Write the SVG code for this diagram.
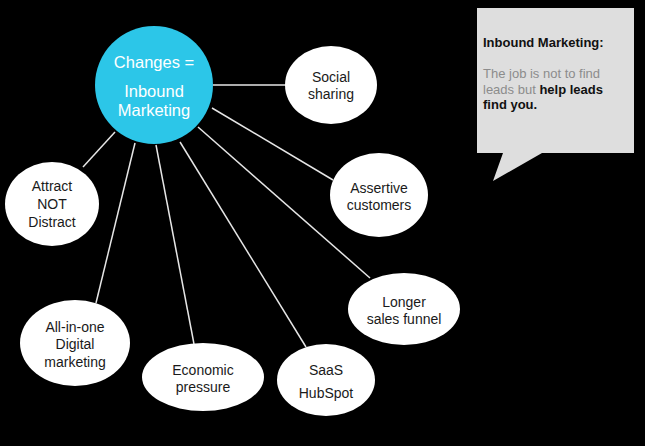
<svg xmlns="http://www.w3.org/2000/svg" width="645" height="446" viewBox="0 0 645 446">
<style>
.bg{fill:#000}
.hub{fill:#2cc6e8}
.node{fill:#fff}
.edge{stroke:#e6e6e6;stroke-width:1.5;fill:none}
.ht{font-family:"Liberation Sans",Arial,sans-serif;font-size:16.5px;fill:#fff;text-anchor:middle}
.nt{font-family:"Liberation Sans",Arial,sans-serif;font-size:14px;fill:#1a1a1a;text-anchor:middle}
.ct{font-family:"Liberation Sans",Arial,sans-serif;font-size:13px}
.cb{font-weight:bold;fill:#111}
.cg{fill:#8c8c8c}
.callout{fill:#dedede}
</style>
<rect class="bg" x="0" y="0" width="645" height="446"/>
<g id="connectors">
<line class="edge" x1="213" y1="85" x2="286" y2="85"/>
<line class="edge" x1="212" y1="108" x2="333" y2="180"/>
<line class="edge" x1="198" y1="127" x2="370" y2="278"/>
<line class="edge" x1="180" y1="142" x2="306" y2="347"/>
<line class="edge" x1="156" y1="145" x2="194" y2="344"/>
<line class="edge" x1="135" y1="143" x2="96" y2="303"/>
<line class="edge" x1="115" y1="132" x2="83" y2="167"/>
</g>
<g id="hub">
<circle class="hub" cx="154" cy="85" r="59"/>
<text class="ht" x="154" y="68">Changes =</text>
<text class="ht" x="154" y="97">Inbound</text>
<text class="ht" x="154" y="116">Marketing</text>
</g>
<g id="social">
<ellipse class="node" cx="331" cy="85" rx="46" ry="39"/>
<text class="nt" x="331" y="82">Social</text>
<text class="nt" x="331" y="99">sharing</text>
</g>
<g id="assertive">
<ellipse class="node" cx="379" cy="195" rx="49" ry="42"/>
<text class="nt" x="379" y="193">Assertive</text>
<text class="nt" x="379" y="210">customers</text>
</g>
<g id="attract">
<ellipse class="node" cx="52" cy="204" rx="47" ry="42"/>
<text class="nt" x="52" y="191">Attract</text>
<text class="nt" x="52" y="209">NOT</text>
<text class="nt" x="52" y="227">Distract</text>
</g>
<g id="longer">
<ellipse class="node" cx="404" cy="309" rx="56" ry="36"/>
<text class="nt" x="404" y="307">Longer</text>
<text class="nt" x="404" y="324">sales funnel</text>
</g>
<g id="allinone">
<ellipse class="node" cx="75" cy="343" rx="55" ry="43"/>
<text class="nt" x="75" y="332">All-in-one</text>
<text class="nt" x="75" y="349">Digital</text>
<text class="nt" x="75" y="367">marketing</text>
</g>
<g id="economic">
<ellipse class="node" cx="203" cy="377" rx="61" ry="34"/>
<text class="nt" x="203" y="375">Economic</text>
<text class="nt" x="203" y="392">pressure</text>
</g>
<g id="saas">
<ellipse class="node" cx="326" cy="380" rx="49" ry="36"/>
<text class="nt" x="326" y="375">SaaS</text>
<text class="nt" x="326" y="398">HubSpot</text>
</g>
<g id="callout">
<path class="callout" d="M477,8 H634 V153 H542 L493,181 L503,153 H477 Z"/>
<text class="ct cb" x="483" y="47">Inbound Marketing:</text>
<text class="ct cg" x="483" y="78">The job is not to find</text>
<text class="ct" x="483" y="93.5"><tspan class="cg">leads but </tspan><tspan class="cb">help leads</tspan></text>
<text class="ct cb" x="483" y="109">find you.</text>
</g>
</svg>
